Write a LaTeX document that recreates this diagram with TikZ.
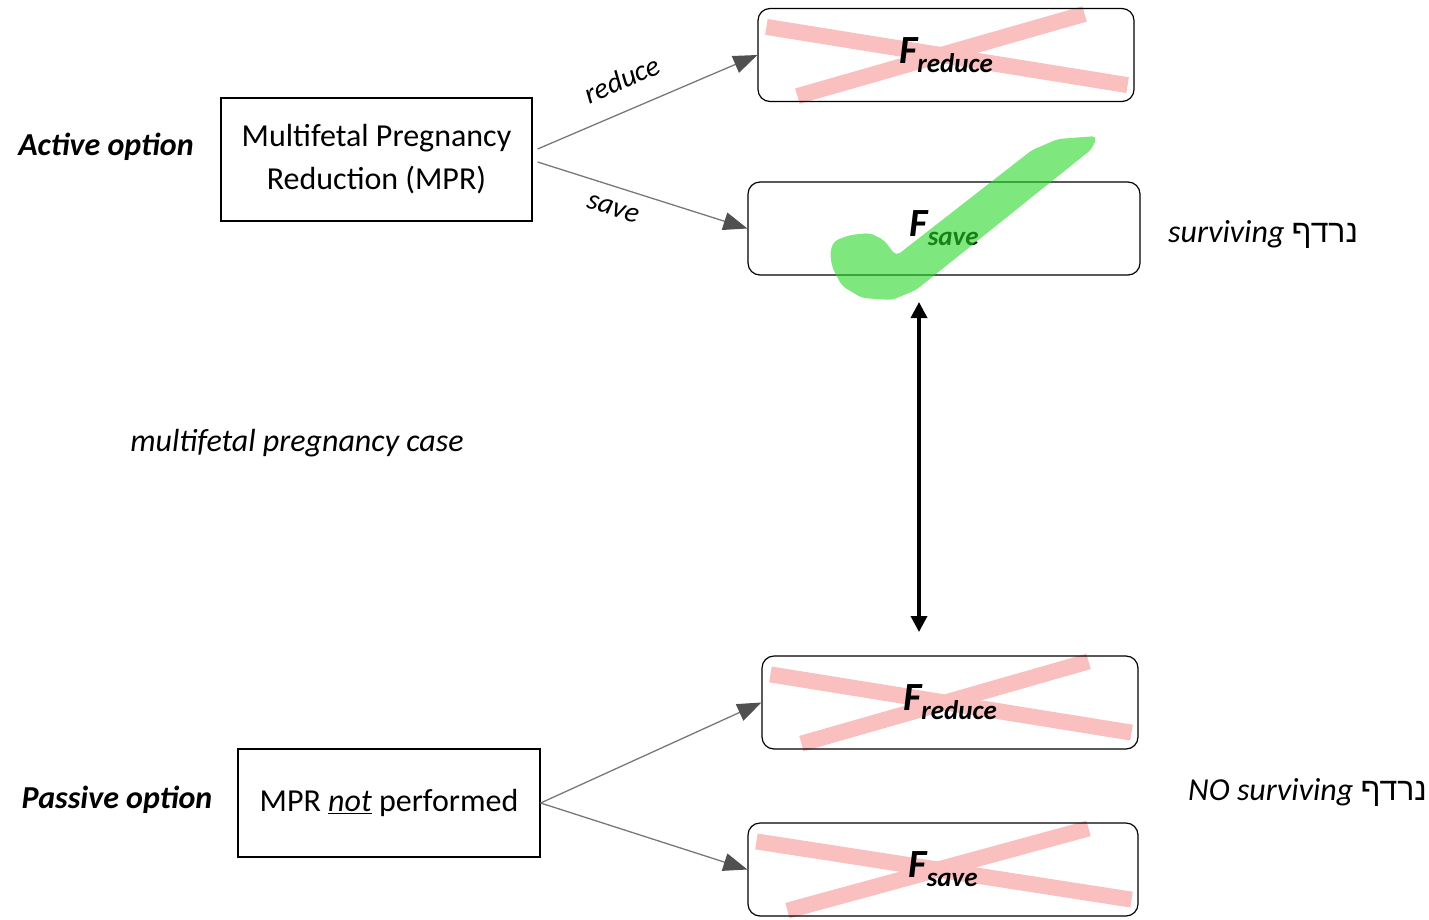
\documentclass[tikz,border=0pt]{standalone}
\usepackage{fontspec}
\setmainfont{Carlito}
\newfontfamily\hebfont[Script=Hebrew]{Liberation Sans}
\usetikzlibrary{arrows.meta}
\TeXXeTstate=1

\definecolor{crosspink}{RGB}{250,192,192}
\definecolor{checkgreen}{RGB}{40,215,40}
\definecolor{arrowgray}{RGB}{120,120,120}
\definecolor{headgray}{RGB}{80,80,80}

\pgfdeclarelayer{background}
\pgfsetlayers{background,main}

\newcommand{\fterm}[1]{{\fontsize{40}{42}\selectfont\bfseries\itshape F}\raisebox{-9pt}{\fontsize{27}{29}\selectfont\bfseries\itshape #1}}
\newcommand{\nirdaf}{{\upshape\hebfont\beginR נרדף\endR}}
\newcommand{\crossbox}[1]{%
\begin{pgfonlayer}{background}
\draw [crossband] ([shift={(9,19)}]#1.north west) -- ([shift={(-7,-17)}]#1.south east);
\draw [crossband] ([shift={(40,-6)}]#1.south west) -- ([shift={(-50,6)}]#1.north east);
\end{pgfonlayer}}

\begin{document}
\begin{tikzpicture}[x=1pt,y=-1pt,
  font=\fontsize{32}{43}\selectfont,
  plainbox/.style={draw, line width=1.2pt, align=center},
  fetusbox/.style={draw, line width=1.2pt, rounded corners=12pt, minimum height=93pt},
  option/.style={font=\fontsize{32}{43}\selectfont\bfseries\itshape},
  note/.style={font=\fontsize{32}{43}\selectfont\itshape},
  edgelabel/.style={font=\fontsize{29}{32}\selectfont\itshape},
  crossband/.style={crosspink, line width=16pt},
  branch/.style={draw=arrowgray, line width=1.3pt, -{Triangle[length=24pt,width=18pt,color=headgray]}},
  link/.style={line width=3.5pt, {Triangle[length=16pt,width=16pt]}-{Triangle[length=16pt,width=16pt]}}]
\tikzstyle{every node}+=[inner sep=0pt]
\useasboundingbox (0,0) rectangle (1429,919);

% active option
\node [option] (active) at (106,147) {Active option};
\node [plainbox, minimum width=311pt, minimum height=123pt] (mpr) at (376.5,159.5) {Multifetal Pregnancy\\Reduction (MPR)};
\node [fetusbox, minimum width=376pt] (fredA) at (946,55) {\fterm{reduce}};
\node [fetusbox, minimum width=392pt] (fsavA) at (944,228.5) {\fterm{save}};
\node [note, anchor=west] (survA) at (1168,234) {surviving \nirdaf};
\crossbox{fredA}
\draw [branch] ([shift={(5,-10.5)}]mpr.east) -- node [edgelabel, sloped, above=20pt, pos=0.44] (lblreduce) {reduce} (fredA.west);
\draw [branch] ([shift={(5,2.5)}]mpr.east) -- node [edgelabel, sloped, below=14pt, pos=0.39] (lblsave) {save} (fsavA.west);
\fill [checkgreen, fill opacity=0.6, rounded corners=5pt] (830,252) -- (834,241) -- (850,235) -- (870,233) -- (884,240) -- (896,256) -- (1032,150) -- (1058,139) -- (1097,136) -- (1092,149) -- (916,290) -- (892,300) -- (862,298) -- (842,286) -- (832,267) -- cycle;

% case
\node [note] (case) at (297,443) {multifetal pregnancy case};

% passive option
\node [option] (passive) at (117,800) {Passive option};
\node [plainbox, minimum width=302pt, minimum height=108pt] (nompr) at (389,803) {MPR \underline{\textit{not}} performed};
\node [fetusbox, minimum width=376pt] (fredP) at (950,702.5) {\fterm{reduce}};
\node [fetusbox, minimum width=390pt] (fsavP) at (943,869.5) {\fterm{save}};
\node [note, anchor=west] (survP) at (1188,792) {NO surviving \nirdaf};
\crossbox{fredP}
\crossbox{fsavP}
\draw [branch] (nompr.east) -- (fredP.west);
\draw [branch] (nompr.east) -- (fsavP.west);

% comparison
\coordinate (linktop) at (919,302);
\coordinate (linkbot) at (919,632);
\draw [link] (linktop) -- (linkbot);
\end{tikzpicture}
\end{document}
